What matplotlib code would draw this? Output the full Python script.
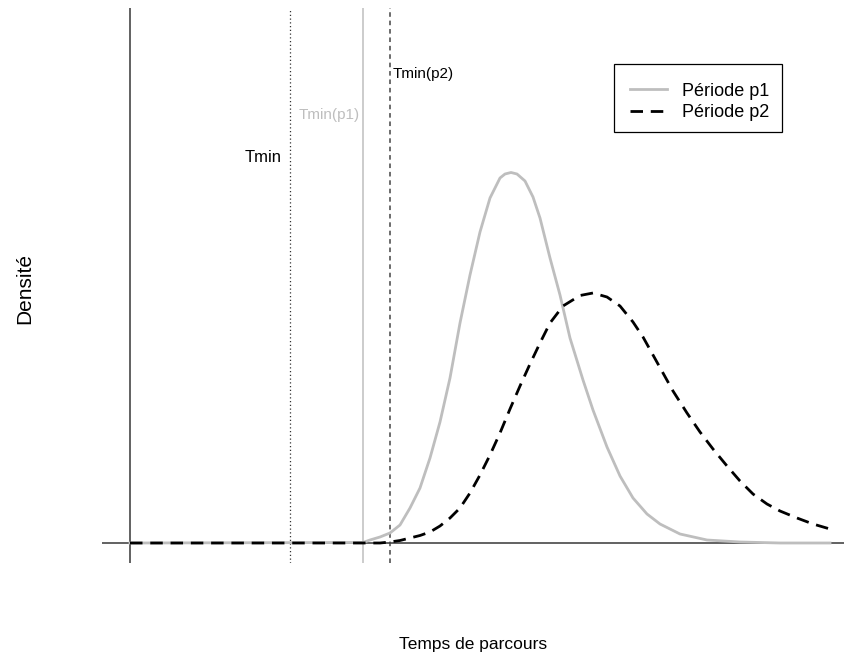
import numpy as np
import matplotlib
matplotlib.use("Agg")
from matplotlib import pyplot as plt
from matplotlib.lines import Line2D
from matplotlib.patches import Rectangle

plt.rcParams['font.family'] = ['Liberation Sans', 'DejaVu Sans']

# temps de parcours (abscisses) et densites
x_p1 = [0, 23.3, 24.0, 25.0, 26.0, 27.0, 28.0, 29.0, 30.0, 31.0, 32.0, 33.0, 34.0, 35.0,
        36.0, 37.0, 37.5, 38.1, 38.7, 39.5, 40.3, 41.0, 42.0, 43.0, 44.0, 45.3, 46.3, 47.7,
        49.0, 50.3, 51.7, 53.0, 55.0, 57.7, 61.0, 65.0, 70.0]
d_p1 = [0, 0.0001, 0.0006, 0.0012, 0.002, 0.0036, 0.007, 0.011, 0.017, 0.0242, 0.033,
        0.044, 0.0536, 0.0622, 0.069, 0.073, 0.0738, 0.0741, 0.0738, 0.0724, 0.0692, 0.065,
        0.057, 0.0496, 0.041, 0.0326, 0.0266, 0.0192, 0.0134, 0.009, 0.0058, 0.0038, 0.0018,
        0.0006, 0.0002, 0, 0]

x_p2 = [0, 25.0, 26.0, 27.0, 28.0, 29.0, 30.0, 31.0, 32.0, 33.0, 34.0, 35.0, 36.0, 37.0,
        38.0, 39.0, 40.0, 41.0, 42.0, 43.3, 45.0, 46.3, 47.7, 49.0, 50.3, 51.3, 52.3, 53.3,
        54.3, 55.7, 57.0, 58.3, 59.7, 61.0, 62.3, 63.7, 65.0, 66.7, 68.3, 70.0]
d_p2 = [0, 0, 0.0002, 0.0005, 0.001, 0.0015, 0.0022, 0.0034, 0.005, 0.007, 0.01, 0.0136,
        0.0176, 0.022, 0.0268, 0.0314, 0.0358, 0.04, 0.044, 0.0474, 0.0495, 0.05, 0.0492,
        0.0474, 0.0442, 0.0412, 0.0376, 0.034, 0.0304, 0.026, 0.0222, 0.0188, 0.0154,
        0.0124, 0.0098, 0.0078, 0.0064, 0.005, 0.0038, 0.0028]

tmin = 16.0
tmin_p1 = 23.3
tmin_p2 = 26.0

fig = plt.figure(figsize=(8.45, 6.55), dpi=100)
ax = fig.add_axes([102/845, 92/655, (845-102)/845, 555/655])
ax.set_xlim(-2.8, 71.5)
ax.set_ylim(-0.004, 0.107)
ax.axis('off')

# axes en gris fonce
ax.axhline(0, color='#555555', lw=1.3)
ax.axvline(0, color='#555555', lw=1.3)

# droites verticales des Tmin
ax.axvline(tmin, color='#333333', lw=0.9, linestyle=(0, (1, 2)))
ax.axvline(tmin_p1, color='#c8c8c8', lw=1.3)
ax.axvline(tmin_p2, color='#444444', lw=1.1, linestyle=(0, (3, 2.5)))

ax.plot(x_p1, d_p1, color='#bebebe', lw=2)
ax.plot(x_p2, d_p2, color='black', lw=2, linestyle=(0, (4.5, 2.8)))

ax.text(tmin - 0.8, 0.0772, 'Tmin', ha='right', va='center', fontsize=12)
ax.text(tmin_p1 - 0.3, 0.0856, 'Tmin(p1)', ha='right', va='center', fontsize=11, color='#bebebe')
ax.text(tmin_p2 + 0.3, 0.0938, 'Tmin(p2)', ha='left', va='center', fontsize=11)

# legende : cadre trace a part
handles = [Line2D([], [], color='#bebebe', lw=2),
           Line2D([], [], color='black', lw=2, linestyle=(0, (4.5, 2.8)))]
leg = fig.legend(handles, ['Période p1', 'Période p2'], loc='upper left',
                 bbox_to_anchor=(630/845, 1 - 82.5/655), fontsize=13, frameon=False,
                 borderpad=0, handlelength=2.05, handletextpad=0.83, labelspacing=0.25,
                 borderaxespad=0)
fig.patches.append(Rectangle((614/845, 1 - 132/655), 168/845, 68/655, fill=False,
                             edgecolor='black', lw=0.9, transform=fig.transFigure))

fig.text(25/845, 1 - 289/655, 'Densité', rotation=90, ha='center', va='center', fontsize=15)
fig.text(473/845, 1 - 645/655, 'Temps de parcours', ha='center', va='center', fontsize=12.5)

fig.savefig('out.png', dpi=100)
